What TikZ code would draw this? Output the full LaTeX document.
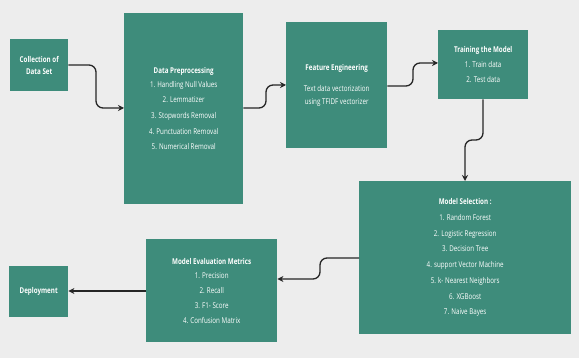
\documentclass[tikz,border=0pt]{standalone}
\usepackage{fontspec}
\setmainfont{Open Sans}[FakeStretch=0.78]
\usetikzlibrary{arrows.meta}
\definecolor{boxteal}{HTML}{3E8C7B}
\definecolor{bggray}{HTML}{EDEDED}
\tikzset{
  box/.style={fill=boxteal, draw=none, text=white, align=center, inner sep=0pt,
    font=\fontsize{8}{15.7}\selectfont},
  conn/.style={draw=black!85, line width=1.3pt, rounded corners=7pt,
    -{Stealth[length=6pt,width=6pt]}}
}
\begin{document}
\begin{tikzpicture}[x=1pt,y=-1pt]
\fill[bggray] (0,0) rectangle (579,358);
\useasboundingbox (0,0) rectangle (579,358);
% boxes: corners given explicitly
\node[box, minimum width=58pt, minimum height=52pt, anchor=north west] (col) at (10,39)
  {\bfseries Collection of\\[-4pt]\bfseries Data Set};
\node[box, minimum width=119pt, minimum height=191pt, anchor=north west] (pre) at (124,13)
  {\bfseries Data Preprocessing\\[-2pt]1. Handling Null Values\\2. Lemmatizer\\3. Stopwords Removal\\4. Punctuation Removal\\5. Numerical Removal};
\node[box, minimum width=101pt, minimum height=126pt, anchor=north west] (fe) at (286,22)
  {\bfseries Feature Engineering\\[6pt]Text data vectorization\\[-3pt]using TFIDF vectorizer};
\node[box, minimum width=90pt, minimum height=69pt, anchor=north west] (tr) at (438,30)
  {\bfseries Training the Model\\[-1pt]1. Train data\\[-1pt]2. Test data};
\node[box, minimum width=212pt, minimum height=153pt, anchor=north west] (ms) at (359,181)
  {\bfseries Model Selection :\\1. Random Forest\\2. Logistic Regression\\3. Decision Tree\\4. support Vector Machine\\5. k- Nearest Neighbors\\6. XGBoost\\7. Naive Bayes};
\node[box, minimum width=131pt, minimum height=103pt, anchor=north west] (ev) at (146,239)
  {\bfseries Model Evaluation Metrics\\[-1pt]1. Precision\\[-1pt]2. Recall\\[-1pt]3. F1- Score\\[-1pt]4. Confusion Matrix};
\node[box, minimum width=59pt, minimum height=51pt, anchor=north west] (dep) at (9,266)
  {\bfseries Deployment};
% connectors
\coordinate (c1) at (96,65);
\coordinate (c2) at (96,108);
\draw[conn] (col.east |- 0,65) -- (c1) -- (c2) -- (pre.west |- c2);
\coordinate (c3) at (266,108);
\coordinate (c4) at (266,85);
\draw[conn] (pre.east |- c3) -- (c3) -- (c4) -- (fe.west |- c4);
\coordinate (c5) at (413,86);
\coordinate (c6) at (413,63);
\draw[conn] (fe.east |- c5) -- (c5) -- (c6) -- (tr.west |- c6);
\coordinate (c7) at (483,140);
\coordinate (c8) at (465,140);
\draw[conn] (tr.south -| c7) -- (c7) -- (c8) -- (ms.north -| c8);
\coordinate (c9) at (320,258);
\coordinate (c10) at (320,279);
\draw[conn] (ms.west |- c9) -- (c9) -- (c10) -- (ev.east |- c10);
\draw[conn] (ev.west |- 0,291) -- (dep.east |- 0,291);
\end{tikzpicture}
\end{document}
